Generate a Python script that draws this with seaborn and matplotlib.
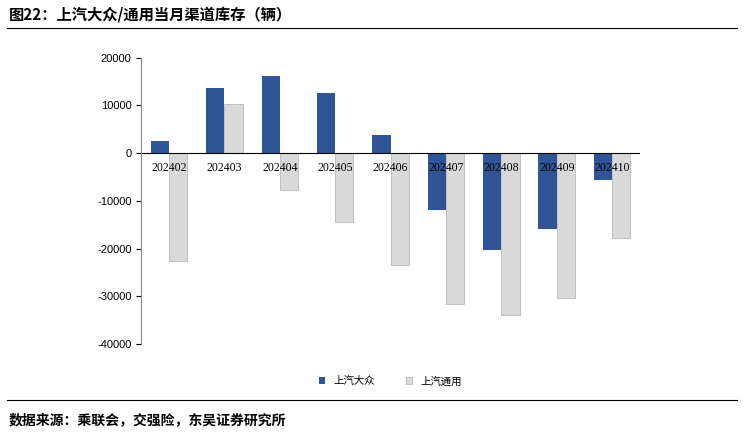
import pandas as pd
import numpy as np
import matplotlib.pyplot as plt
import seaborn as sns

plt.rcParams["font.family"] = "Noto Sans CJK SC"

months = ["202402", "202403", "202404", "202405", "202406", "202407", "202408", "202409", "202410"]
vw = [2500, 13600, 16100, 12600, 3700, -12000, -20300, -15900, -5700]
gm = [-22600, 10300, -7800, -14500, -23500, -31600, -34000, -30400, -17800]

df = pd.DataFrame({"month": months * 2,
                   "value": vw + gm,
                   "brand": ["上汽大众"] * 9 + ["上汽通用"] * 9})

fig = plt.figure(figsize=(7.44, 4.37), dpi=100)
ax = fig.add_axes([0.19, 0.213, 0.67, 0.655])
sns.barplot(data=df, x="month", y="value", hue="brand",
            palette=["#2f5597", "#d9d9d9"], width=0.66, ax=ax,
            edgecolor="none", saturation=1)
for p in ax.patches:
    if p.get_facecolor()[0] > 0.8:
        p.set_edgecolor("#b0b0b0")
        p.set_linewidth(0.5)

ax.set_ylim(-40000, 20000)
ax.set_yticks(np.arange(-40000, 20001, 10000))
ax.set_yticklabels([str(v) for v in range(-40000, 20001, 10000)], fontsize=8,
                   fontfamily="Liberation Sans")
ax.set_xlabel("")
ax.set_ylabel("")
ax.axhline(0, color="black", lw=0.8)
ax.tick_params(axis="x", length=0, labelbottom=False)
for i, m in enumerate(months):
    ax.text(i, -1800, m, ha="center", va="top", fontsize=8.5, fontfamily="Liberation Serif")
for s in ["top", "right", "bottom"]:
    ax.spines[s].set_visible(False)
ax.spines["left"].set_color("#888888")

ax.legend(loc="upper center", bbox_to_anchor=(0.5, -0.08), ncol=2, frameon=False,
          fontsize=7.5, handlelength=0.6, handleheight=0.6, columnspacing=3)

fig.text(0.012, 0.955, "图22：上汽大众/通用当月渠道库存（辆）", fontsize=11, fontweight="bold")
fig.add_artist(plt.Line2D([0.01, 0.99], [0.935, 0.935], color="black", lw=0.8))
fig.add_artist(plt.Line2D([0.01, 0.99], [0.085, 0.085], color="black", lw=0.8))
fig.text(0.012, 0.03, "数据来源：乘联会，交强险，东吴证券研究所", fontsize=10, fontweight="bold")

fig.savefig("out.png", dpi=100)
